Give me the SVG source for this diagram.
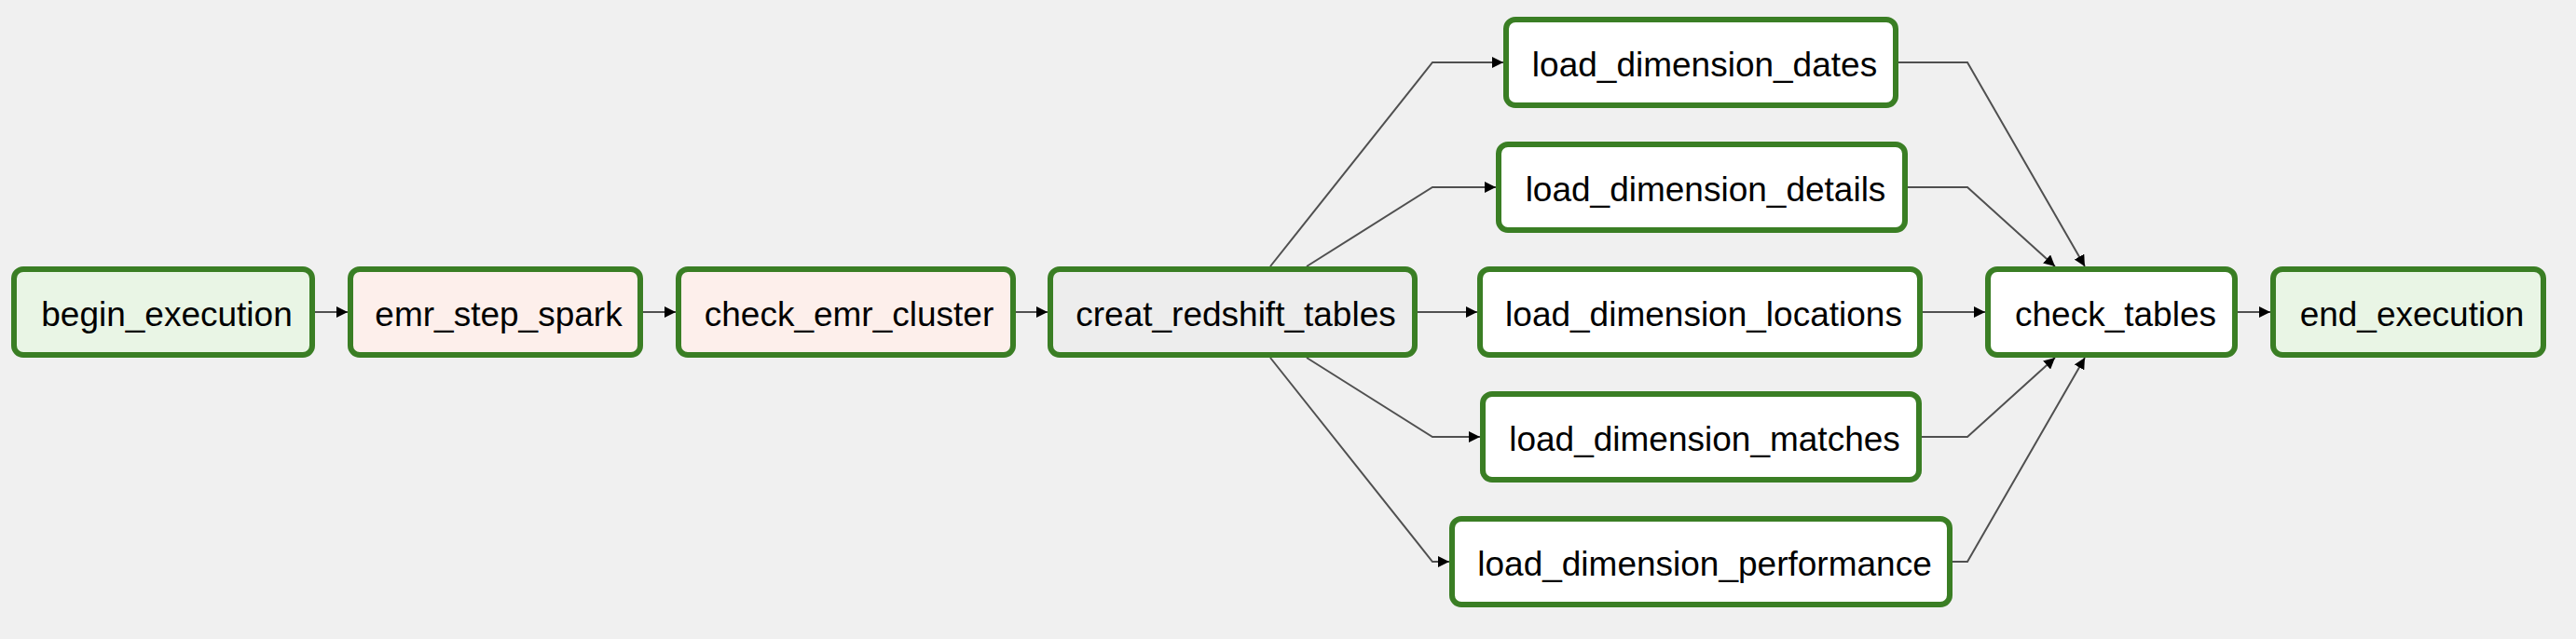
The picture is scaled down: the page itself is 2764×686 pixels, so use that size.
<svg xmlns="http://www.w3.org/2000/svg" width="2764" height="686" viewBox="0 0 2764 686">
<style>
.node rect{stroke:#3a7e24;stroke-width:6}
.node text{font-family:"Liberation Sans",Arial,Helvetica,sans-serif;font-size:37px;fill:#000;text-anchor:middle}
.dummy rect{fill:#e9f5e5}
.emr rect{fill:#fdefeb}
.pg rect{fill:#ededed}
.plain rect{fill:#ffffff}
#edges path{fill:none;stroke:#505050;stroke-width:2;marker-end:url(#arr)}
</style>
<defs>
<marker id="arr" markerUnits="userSpaceOnUse" markerWidth="12" markerHeight="12" refX="12" refY="6" orient="auto">
<path d="M0,0 L12,6 L0,12 z" fill="#000"/>
</marker>
</defs>
<rect width="2764" height="686" fill="#f0f0f0"/>
<g id="edges">
<path d="M338,335 L373,335"/>
<path d="M690,335 L725,335"/>
<path d="M1090,335 L1124,335"/>
<path d="M1363,286 L1537,67 L1613,67"/>
<path d="M1402,286 L1537,201 L1605,201"/>
<path d="M1521,335 L1585,335"/>
<path d="M1402,384 L1537,469 L1588,469"/>
<path d="M1363,384 L1537,603 L1555,603"/>
<path d="M2037,67 L2111,67 L2237,286"/>
<path d="M2047,201 L2111,201 L2205,286"/>
<path d="M2063,335 L2130,335"/>
<path d="M2062,469 L2111,469 L2205,384"/>
<path d="M2095,603 L2111,603 L2237,384"/>
<path d="M2401,335 L2436,335"/>
</g>
<g id="begin_execution" class="node dummy"><rect x="15" y="289" width="320" height="92" rx="10"/><text x="179" y="350">begin_execution</text></g>
<g id="emr_step_spark" class="node emr"><rect x="376" y="289" width="311" height="92" rx="10"/><text x="535" y="350">emr_step_spark</text></g>
<g id="check_emr_cluster" class="node emr"><rect x="728" y="289" width="359" height="92" rx="10"/><text x="911" y="350">check_emr_cluster</text></g>
<g id="creat_redshift_tables" class="node pg"><rect x="1127" y="289" width="391" height="92" rx="10"/><text x="1326" y="350">creat_redshift_tables</text></g>
<g id="load_dimension_dates" class="node plain"><rect x="1616" y="21" width="418" height="92" rx="10"/><text x="1829" y="82">load_dimension_dates</text></g>
<g id="load_dimension_details" class="node plain"><rect x="1608" y="155" width="436" height="92" rx="10"/><text x="1830" y="216">load_dimension_details</text></g>
<g id="load_dimension_locations" class="node plain"><rect x="1588" y="289" width="472" height="92" rx="10"/><text x="1828" y="350">load_dimension_locations</text></g>
<g id="load_dimension_matches" class="node plain"><rect x="1591" y="423" width="468" height="92" rx="10"/><text x="1829" y="484">load_dimension_matches</text></g>
<g id="load_dimension_performance" class="node plain"><rect x="1558" y="557" width="534" height="92" rx="10"/><text x="1829" y="618">load_dimension_performance</text></g>
<g id="check_tables" class="node plain"><rect x="2133" y="289" width="265" height="92" rx="10"/><text x="2270" y="350">check_tables</text></g>
<g id="end_execution" class="node dummy"><rect x="2439" y="289" width="290" height="92" rx="10"/><text x="2588" y="350">end_execution</text></g>
</svg>
